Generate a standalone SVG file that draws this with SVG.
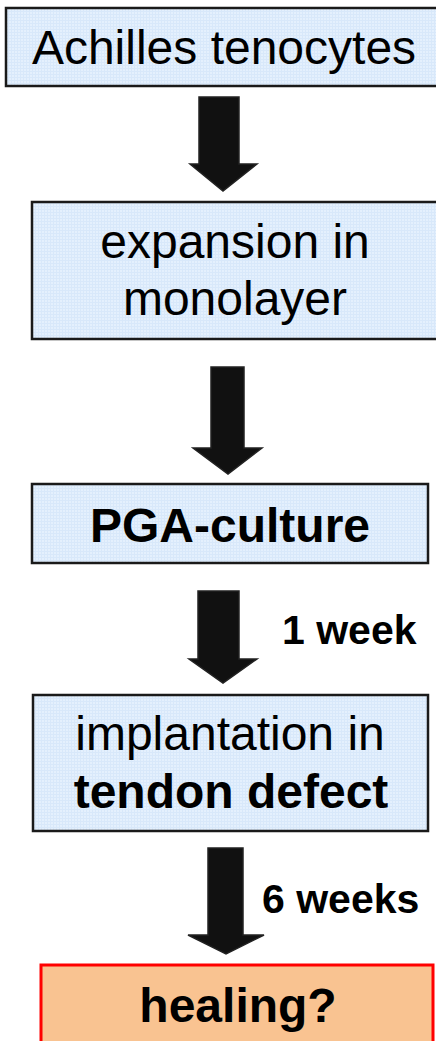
<svg xmlns="http://www.w3.org/2000/svg" width="436" height="1041" viewBox="0 0 436 1041">
<defs>
<pattern id="tex" width="3" height="3" patternUnits="userSpaceOnUse">
<rect width="3" height="3" fill="#D8E8FA"/>
<rect width="2" height="2" fill="#E4F0FD"/>
</pattern>
<style>
.box{fill:url(#tex);stroke:#1a1a1a;stroke-width:2.5}
.heal{fill:#F9C391;stroke:#FF0000;stroke-width:3}
.arr{fill:#111;stroke:#222;stroke-width:1.5;stroke-linejoin:miter}
.t{font-family:"Liberation Sans",Arial,sans-serif;font-size:48px;fill:#000;text-anchor:middle}
.b{font-weight:bold}
.lbl{font-family:"Liberation Sans",Arial,sans-serif;font-size:41px;font-weight:bold;fill:#000}
</style>
</defs>
<g id="connectors">
<polygon class="arr" points="199,97 239,97 239,164 257,164 223,191 190,164 199,164"/>
<polygon class="arr" points="211,367 244,367 244,448 262,448 228,474 193,448 211,448"/>
<polygon class="arr" points="198,591 239,591 239,659 257,659 223,683 189,659 198,659"/>
<polygon class="arr" points="208,848 243,848 243,935 264,935 226,954 188,935 208,935"/>
<text class="lbl" x="282" y="644">1 week</text>
<text class="lbl" x="262" y="913">6 weeks</text>
</g>
<g id="node-achilles">
<rect class="box" x="6" y="8" width="440" height="78"/>
<text class="t" x="224" y="64">Achilles tenocytes</text>
</g>
<g id="node-expansion">
<rect class="box" x="32" y="202" width="414" height="137"/>
<text class="t" x="235" y="258">expansion in</text>
<text class="t" x="235" y="315">monolayer</text>
</g>
<g id="node-pga">
<rect class="box" x="32" y="484" width="396" height="79"/>
<text class="t b" x="230" y="542">PGA-culture</text>
</g>
<g id="node-implantation">
<rect class="box" x="33" y="695" width="395" height="136"/>
<text class="t" x="230" y="750">implantation in</text>
<text class="t b" x="231" y="808">tendon defect</text>
</g>
<g id="node-healing">
<rect class="heal" x="41" y="965" width="392" height="90"/>
<text class="t b" x="238" y="1022">healing?</text>
</g>
</svg>
